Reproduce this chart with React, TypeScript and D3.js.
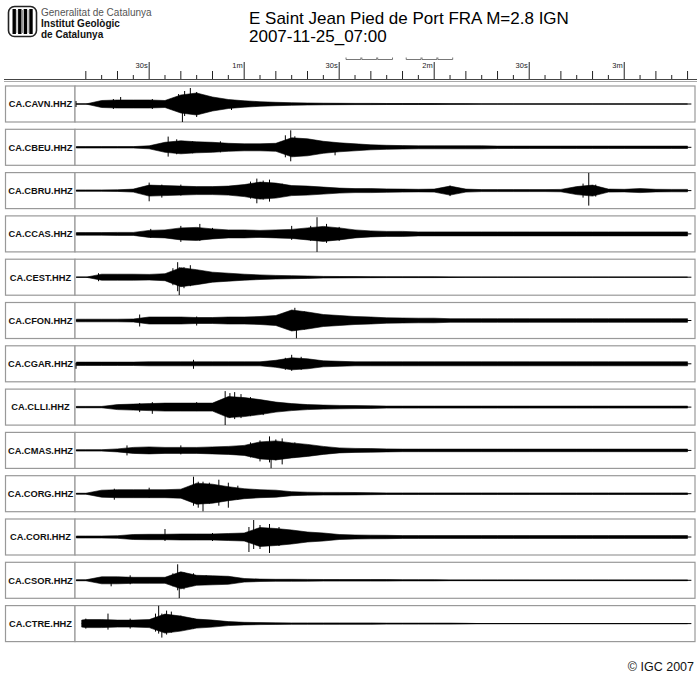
import * as React from "react";
import * as d3 from "d3";

// sample times (s) for the amplitude envelopes
const sampleTimes = [
  7, 10, 15, 20, 25, 30, 35, 40, 45, 50, 55, 60, 65, 70, 75, 80, 85, 90, 95, 100,
  105, 110, 115, 120, 125, 130, 135, 140, 145, 150, 155, 160, 165, 170, 175, 180, 185, 190, 195, 200,
];

const stationNames = [
  "CA.CAVN.HHZ", "CA.CBEU.HHZ", "CA.CBRU.HHZ", "CA.CCAS.HHZ", "CA.CEST.HHZ", "CA.CFON.HHZ",
  "CA.CGAR.HHZ", "CA.CLLI.HHZ", "CA.CMAS.HHZ", "CA.CORG.HHZ", "CA.CORI.HHZ", "CA.CSOR.HHZ", "CA.CTRE.HHZ",
];

// trace start time (s)
const traceStart = [6.9, 6.9, 6.9, 6.9, 6.9, 6.9, 6.9, 6.9, 6.9, 6.9, 6.9, 6.9, 8.7];

// envelope half-amplitudes (box half height = 18)
const cavnAmp = [0, 0, 3.5, 4, 4, 4, 3.5, 9, 11, 7, 4.5, 3.2, 2.3, 1.7, 1.3, 1, 0.8, 0.7, 0.6, 0.6, 0.5, 0.5, 0.5, 0.4, 0.3, 0.2, 0, 0, 0, 0, 0, 0, 0, 0, 0, 0, 0, 0, 0, 0];
const cbeuAmp = [0.7, 0.7, 0.7, 0.7, 0.7, 1.5, 5, 6.5, 5.5, 5, 4, 3.5, 3.5, 4, 9.5, 8.5, 6, 4.5, 3.5, 2.5, 2, 1.7, 1.5, 1.5, 1.5, 1.5, 1.5, 1.2, 1.2, 1.2, 1.2, 1.2, 1.2, 1.2, 1.2, 1.2, 1.2, 1.2, 1.2, 1.2];
const cbruAmp = [0.7, 0.7, 0.7, 0.8, 1.5, 5.5, 5, 4.5, 4, 4, 4.5, 6, 8.5, 7.5, 5, 4.5, 3.5, 2.5, 2, 2, 1.7, 1.5, 1.3, 1.5, 4.5, 1.5, 1, 1, 1, 1, 1, 1.2, 4, 5.5, 1.5, 1.3, 2, 1.3, 1.2, 1.2];
const ccasAmp = [1.3, 1.3, 1.3, 1.5, 1.5, 3.5, 4, 6, 6.5, 5, 4, 4, 3.5, 4, 4.5, 6, 7.5, 6, 4, 3, 2.5, 2.5, 2, 2, 2, 2, 2, 2, 2, 2, 2, 2, 2, 2, 2, 2, 2, 2, 2, 2];
const cestAmp = [0, 0, 3, 3, 3, 2.8, 3.5, 9.5, 7.5, 5, 4, 3, 2.3, 1.8, 1.5, 1.2, 0.8, 0.7, 0.6, 0.5, 0.4, 0.4, 0.4, 0.4, 0.3, 0, 0, 0, 0, 0, 0, 0, 0, 0, 0, 0, 0, 0, 0, 0];
const cfonAmp = [1.3, 1.3, 1.3, 1.3, 1.5, 3.5, 3.5, 3.5, 3, 3, 3.5, 3.5, 4, 5, 10.5, 8.5, 6, 5, 4, 3.5, 2.7, 2.5, 2.3, 2.3, 1.8, 1.8, 1.8, 1.8, 1.8, 1.8, 1.8, 1.8, 1.8, 1.8, 1.8, 1.8, 1.8, 1.8, 1.8, 1.8];
const cgarAmp = [1.7, 1.7, 1.7, 1.7, 1.7, 2, 2, 2, 2, 2, 2, 2, 2, 3.5, 6, 5, 3, 2.5, 2, 2, 2, 2, 2, 2, 2, 2, 2, 2, 2, 2, 2, 2, 2, 2, 2, 2, 2, 2, 2, 2];
const clliAmp = [0.7, 0.7, 0.7, 2.5, 3, 3.5, 4, 4, 4, 4, 10.5, 9.5, 7.5, 5, 3.5, 2.5, 2, 1.7, 1.5, 1.3, 1, 1, 1, 1, 1, 1, 1, 1, 1, 1, 1, 1, 1, 1, 1, 1, 1, 1, 1, 1];
const cmasAmp = [0.7, 0.7, 0.7, 1.5, 3, 3.5, 3, 3, 3, 3.5, 4, 5, 8.5, 9.5, 7.5, 6, 4, 2.5, 2, 1.8, 1.5, 1.3, 1.3, 1.3, 1.3, 1.3, 1.3, 1.3, 1.3, 1.3, 1.3, 1.3, 1.3, 1.3, 1.3, 1.3, 1.3, 1.3, 1.3, 1.3];
const corgAmp = [0.5, 0.5, 3.5, 4, 4, 4, 4, 4.5, 10.5, 9.5, 7, 5, 4, 3.5, 2, 1.5, 1.3, 1.3, 1.2, 1, 0.8, 0.8, 0.8, 0.8, 0.8, 0.8, 0.8, 0.8, 0.8, 0.8, 0.8, 0.8, 0.8, 0.8, 0.8, 0.8, 0.8, 0.8, 0.8, 0.8];
const coriAmp = [1, 1, 1, 1.3, 2.5, 2.7, 2.7, 3, 3, 3, 3.5, 4, 9.5, 8.5, 7, 5, 4, 2.5, 2, 1.8, 1.7, 1.4, 1.4, 1.4, 1.4, 1.4, 1.4, 1.4, 1.4, 1.4, 1.4, 1.4, 1.4, 1.4, 1.4, 1.4, 1.4, 1.4, 1.4, 1.4];
const csorAmp = [0.5, 0.5, 3.5, 3.5, 3, 3, 3, 8.5, 5, 4.5, 4, 1.8, 1.2, 1, 1, 0.9, 0.8, 0.8, 0.8, 0.8, 0.8, 0.6, 0.6, 0.6, 0.4, 0.4, 0.4, 0.4, 0.4, 0.4, 0.4, 0.4, 0.4, 0.4, 0.4, 0.4, 0.4, 0.4, 0.4, 0.4];
const ctreAmp = [3.5, 4, 4, 3.5, 3.5, 4, 9.5, 7.5, 4.5, 3.5, 2, 1.3, 1, 0.8, 0.7, 0.7, 0.7, 0.7, 0.7, 0.7, 0.5, 0.5, 0.5, 0.5, 0.5, 0.3, 0, 0, 0, 0, 0, 0, 0, 0, 0, 0, 0, 0, 0, 0];

// spikes: [time s, up, down]
const cavnPeaks = [[6.9, 3, 3], [18.7, 5, 5], [21, 7, 4], [31, 5, 5], [39.3, 10, 8], [40.5, 6, 18], [41.2, 13, 12], [43, 16, 10], [45, 12, 13], [47.5, 9, 8], [56, 4, 6]];
const cbeuPeaks = [[36, 10.7, 9.3], [38.7, 8, 7], [43.7, 6, 6], [52.5, 6, 5], [73, 12, 10], [74.7, 17, 14], [76, 11, 9], [80, 8, 7], [88.7, 4, 8]];
const cbruPeaks = [[30, 8, 10.7], [34, 6, 7], [40, 6, 5], [62, 9, 8], [64, 12, 12.7], [66, 10, 9], [68, 11, 11], [72, 7, 6], [125, 5, 5.5], [167, 7, 7], [168.8, 17.7, 15], [171, 6, 6]];
const ccasPeaks = [[30.5, 5, 4], [40, 8, 8], [46, 10, 7], [50, 6, 5], [75, 8, 6], [81, 8, 7], [83, 16.7, 18], [86, 10, 9], [90, 7, 7]];
const cestPeaks = [[14, 4, 4], [37.5, 9, 8], [39, 15, 14], [39.5, 10, 18], [41, 10, 11], [43, 12, 9], [47, 6, 6]];
const cfonPeaks = [[27, 6, 6], [45, 4, 5], [73, 8, 7], [76, 12.7, 10], [76.5, 8, 18], [79, 9, 9], [84, 6, 5]];
const cgarPeaks = [[6.9, 1, 5], [44, 4, 5], [73, 6, 6], [75, 9, 7], [78, 7, 6]];
const clliPeaks = [[27, 4, 5], [31, 5, 6.7], [45, 5, 4], [54, 16, 18], [55.5, 14, 11], [57, 15, 12], [59, 13, 11], [62, 10, 9], [66, 7, 8]];
const cmasPeaks = [[23, 5, 5], [40, 5, 4], [62, 8, 7], [65, 10, 11], [68, 14, 12], [68.5, 8, 18], [70, 11, 10], [72, 12, 14], [76, 8, 7]];
const corgPeaks = [[19, 5, 6], [30, 6, 4], [44, 17, 12], [45.5, 12, 14], [47, 12, 17.7], [49, 11, 10], [52, 14, 12], [55, 11, 14], [58, 8, 6]];
const coriPeaks = [[35, 8, 4], [50, 4, 4], [61.5, 10, 15], [63, 17, 12], [65, 12, 12], [68, 13, 16], [71, 10, 9], [75, 6, 6]];
const csorPeaks = [[18, 3, 6], [24, 5, 4], [37.5, 7, 6], [39, 16, 10], [39.5, 8, 18], [41, 8, 9], [44, 7, 5], [48, 5, 4]];
const ctrePeaks = [[10, 5, 5], [17, 10, 6], [24, 5, 5], [32, 10, 8], [33, 18, 10], [34, 10, 14], [35.5, 13, 11], [37, 12, 9], [40, 8, 7], [44, 5, 5]];

const amplitudes = [cavnAmp, cbeuAmp, cbruAmp, ccasAmp, cestAmp, cfonAmp, cgarAmp, clliAmp, cmasAmp, corgAmp, coriAmp, csorAmp, ctreAmp];
const peaks = [cavnPeaks, cbeuPeaks, cbruPeaks, ccasPeaks, cestPeaks, cfonPeaks, cgarPeaks, clliPeaks, cmasPeaks, corgPeaks, coriPeaks, csorPeaks, ctrePeaks];

// time axis
const tickTimes = [10, 15, 20, 25, 30, 35, 40, 45, 50, 55, 60, 65, 70, 75, 80, 85, 90, 95, 100, 105, 110, 115, 120, 125, 130, 135, 140, 145, 150, 155, 160, 165, 170, 175, 180, 185, 190, 195, 200];
const labelTimes = [30, 60, 90, 120, 150, 180];
const labelTexts = ["30s", "1m", "30s", "2m", "30s", "3m"];
const bracketTimes = [[92, 97], [97, 102], [102, 107], [111, 116], [116, 121], [121, 126]];

const FONT = "'Liberation Sans', Arial, sans-serif";

export default function App() {
  const x = d3.scaleLinear().domain([6.9, 201.4]).range([76, 692]);
  const rowTop = (i: number) => 86 + i * 43.3;
  const rowH = 36;

  return (
    <svg width={700} height={683} style={{ position: "absolute", left: 0, top: 0, background: "#fff" }} fontFamily={FONT}>
      {/* logo */}
      <g>
        <rect x={8.5} y={6.5} width={28} height={30} rx={6} fill="#fff" stroke="#222" strokeWidth={1.6} />
        {[0, 1, 2, 3].map((k) => (
          <rect key={k} x={12.5 + k * 5.6} y={9} width={3.4} height={25} fill="#000" />
        ))}
        {[0, 1, 2].map((k) => (
          <rect key={k} x={16.4 + k * 5.6} y={10} width={1} height={23} fill="#999" />
        ))}
      </g>
      <text x={41} y={16} fontSize={10} fill="#555">Generalitat de Catalunya</text>
      <text x={41} y={27} fontSize={10} fontWeight="bold" fill="#111">Institut Geològic</text>
      <text x={41} y={38} fontSize={10} fontWeight="bold" fill="#111">de Catalunya</text>

      <text x={249} y={24} fontSize={17} fill="#000">E Saint Jean Pied de Port FRA M=2.8 IGN</text>
      <text x={249} y={42} fontSize={17} fill="#000">2007-11-25_07:00</text>

      {/* time axis */}
      <g>
        {tickTimes.map((t) => {
          const lab = labelTimes.includes(t);
          const top = lab ? 62 : t % 10 === 0 ? 71 : 75;
          return <line key={t} x1={x(t)} x2={x(t)} y1={top} y2={79} stroke="#222" strokeWidth={1} />;
        })}
        {labelTimes.map((t, i) => (
          <text key={t} x={x(t) - 1.5} y={68} fontSize={7.5} textAnchor="end" fill="#222">{labelTexts[i]}</text>
        ))}
        {bracketTimes.map(([a, b], i) => (
          <path key={i} d={`M${x(a) + 0.5},57.5 V59.5 H${x(b) - 0.5} V57.5`} fill="none" stroke="#555" strokeWidth={0.8} />
        ))}
        <line x1={4} x2={697} y1={79.5} y2={79.5} stroke="#444" strokeWidth={1.2} />
        <line x1={4} x2={697} y1={81.5} y2={81.5} stroke="#aaa" strokeWidth={1} />
      </g>

      {/* traces */}
      {stationNames.map((name, i) => {
        const top = rowTop(i);
        const cy = top + rowH / 2;
        const y = d3.scaleLinear().domain([-18, 18]).range([top + rowH, top]);
        const amp = amplitudes[i];
        const pts = sampleTimes.map((t, k) => ({ t, a: amp[k] }));
        const area = d3
          .area<{ t: number; a: number }>()
          .x((d) => x(Math.max(d.t, traceStart[i])))
          .y0((d) => y(-d.a))
          .y1((d) => y(d.a))
          .curve(d3.curveLinear);
        const clipId = `clip${i}`;
        return (
          <g key={name}>
            <clipPath id={clipId}>
              <rect x={75} y={top} width={620} height={rowH} />
            </clipPath>
            <rect x={5.5} y={top} width={69.5} height={rowH} fill="#fff" stroke="#999" strokeWidth={1.2} />
            <rect x={75} y={top} width={620} height={rowH} fill="#fff" stroke="#999" strokeWidth={1.2} />
            <text x={40.5} y={cy + 3.3} fontSize={9.3} fontWeight="bold" textAnchor="middle" fill="#111">{name}</text>
            <g clipPath={`url(#${clipId})`}>
              <line x1={x(traceStart[i])} x2={x(201.2)} y1={cy} y2={cy} stroke="#000" strokeWidth={1} />
              <path d={area(pts) || ""} fill="#000" stroke="#000" strokeWidth={0.6} />
              {peaks[i].map(([t, up, down], k) => (
                <line key={k} x1={x(t)} x2={x(t)} y1={y(up)} y2={y(-down)} stroke="#000" strokeWidth={1} />
              ))}
            </g>
          </g>
        );
      })}

      <text x={694} y={671} fontSize={12.5} textAnchor="end" fill="#111">© IGC 2007</text>
    </svg>
  );
}
